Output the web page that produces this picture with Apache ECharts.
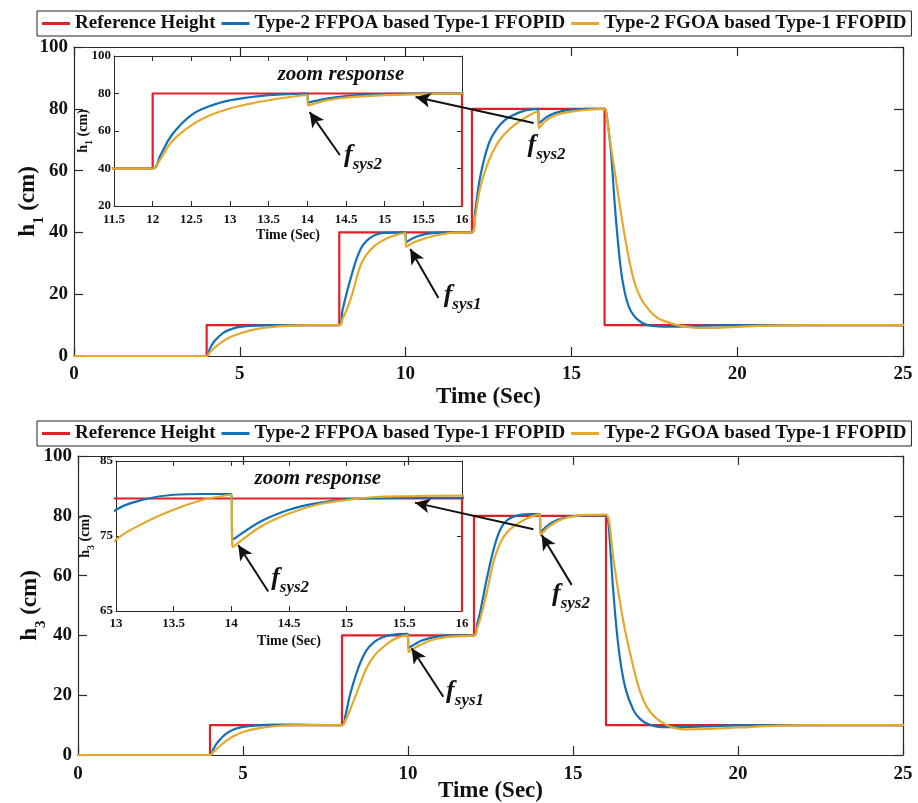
<!DOCTYPE html>
<html><head><meta charset="utf-8">
<script src="https://cdn.jsdelivr.net/npm/echarts@6/dist/echarts.min.js"></script>
<style>html,body{margin:0;padding:0;background:#fff}#c{width:918px;height:803px}</style>
</head><body><div id="c"></div>
<script>
// ---------------- data ----------------
const seriesNames = ['Reference Height', 'Type-2 FFPOA based Type-1 FFOPID', 'Type-2 FGOA based Type-1 FFOPID'];

const mainXTicks = [0, 5, 10, 15, 20, 25];
const mainYTicks = [0, 20, 40, 60, 80, 100];
const inset1XTicks = [11.5, 12, 12.5, 13, 13.5, 14, 14.5, 15, 15.5, 16];
const inset1YTicks = [20, 40, 60, 80, 100];
const inset3XTicks = [13, 13.5, 14, 14.5, 15, 15.5, 16];
const inset3YTicks = [65, 75, 85];

const refHeight = [[0,0],[4,0],[4,10],[8,10],[8,40],[12,40],[12,80],[16,80],[16,10],[25,10]];

const h1FFPOA = [[0,0],[4,0],[4.1,2.5],[4.25,5],[4.5,7.5],[4.75,8.7],[5,9.4],[5.5,9.85],[6,10],[8,10],
  [8.1,15],[8.33,24.6],[8.63,34.3],[8.93,38.2],[9.33,39.8],[10,40],
  [10.01,36.8],[10.25,38.3],[10.5,39.2],[10.75,39.7],[11.25,40],[12,40],
  [12.1,47],[12.25,58],[12.5,68.5],[12.75,73.5],[13,76.4],[13.25,78],[13.5,79.1],[13.75,79.7],[14,80],
  [14.01,75.2],[14.25,77.3],[14.5,78.6],[14.75,79.3],[15,79.7],[15.5,80],[16,80],
  [16.05,79],[16.18,67.6],[16.33,46],[16.48,29],[16.6,21],[16.73,16],[16.9,12.8],[17.09,11],[17.3,10],
  [17.6,9.6],[18,9.5],[18.5,9.6],[19,9.8],[20,10],[25,10]];

const h1FGOA = [[0,0],[4,0],[4.1,1.2],[4.25,2.8],[4.5,4.8],[4.75,6.3],[5,7.3],[5.5,8.7],[6,9.4],[6.5,9.8],[7,10],[8,10],
  [8.1,12],[8.33,18],[8.63,29],[8.8,32.5],[9.03,35.3],[9.25,37],[9.53,38.5],[9.75,39.3],[10,39.8],
  [10.01,35.3],[10.25,36.8],[10.43,37.5],[10.75,38.6],[11.04,39.3],[11.5,39.9],[12,40],
  [12.1,45],[12.25,54.5],[12.5,63],[12.75,68.5],[13,72],[13.25,74.5],[13.5,76.4],[13.75,78],[14,79.2],
  [14.01,73.7],[14.25,76.3],[14.5,77.8],[14.75,78.6],[15,79.1],[15.5,79.7],[16,80],
  [16.05,78.5],[16.12,73],[16.33,58],[16.63,37.5],[16.88,24.6],[17.1,18.5],[17.33,15],[17.6,12.3],[18,10.6],
  [18.2,10],[18.8,9.1],[19.5,9.2],[20.5,9.7],[22,10],[25,10]];

const h3FFPOA = [[0,0],[4,0],[4.1,2],[4.25,4.5],[4.5,7.2],[4.75,8.7],[5,9.4],[5.5,10],[6,10.2],[7,10.1],[8,10],
  [8.1,13],[8.24,20],[8.49,29],[8.74,35],[9,38],[9.24,39.4],[9.5,40.2],[10,40.5],
  [10.01,35.8],[10.2,37],[10.4,38.2],[10.8,39.4],[11.3,40],[12,40],
  [12.1,44],[12.2,48.5],[12.38,58.5],[12.6,69],[12.8,75.5],[13,78.5],[13.25,79.9],[13.5,80.5],[13.75,80.6],[14,80.6],
  [14.01,74.5],[14.25,76.9],[14.5,78.5],[14.75,79.4],[15,79.9],[15.5,80.1],[16,80.1],
  [16.05,79.5],[16.1,74],[16.22,55],[16.38,36],[16.58,22.7],[16.83,15],[17.04,12],[17.24,10.5],[17.5,9.6],
  [18,9.3],[18.5,9.4],[19,9.6],[20,9.9],[21,10],[25,10]];

const h3FGOA = [[0,0],[4,0],[4.1,1],[4.25,2.5],[4.5,4.8],[4.75,6.5],[5,7.7],[5.5,9],[6,9.7],[6.5,10],[8,10],
  [8.1,11.5],[8.24,15],[8.49,22],[8.74,29],[9,33.5],[9.24,36],[9.5,38.2],[9.75,39.5],[10,40.1],
  [10.01,34.4],[10.2,35.8],[10.4,37],[10.8,38.7],[11.3,39.6],[12,40],
  [12.1,42.5],[12.2,46],[12.4,55],[12.6,65],[12.8,71],[13,74.5],[13.25,76.8],[13.5,78.5],[13.75,79.8],[14,80.5],
  [14.01,73.5],[14.25,76.2],[14.5,78],[14.75,79.2],[15,79.8],[15.25,80.2],[15.5,80.3],[16,80.4],
  [16.05,79.8],[16.1,78],[16.22,66],[16.52,45],[16.83,29.4],[17.04,21],[17.24,16],[17.5,12.5],[17.84,10],
  [18.1,9],[18.44,8.6],[19,8.7],[20,9.2],[21.2,9.8],[22,10],[25,10]];

// ---------------- style / layout ----------------
const serif = "'Liberation Serif','Times New Roman',serif";
const axisColor = '#2a2a2a';
const colors = ['#e31f26', '#1170b8', '#e3a92c'];

const grids = [
  {left: 74, right: 15, top: 47, height: 309, outerBoundsMode: 'none', containLabel: false},   // main h1
  {left: 114, width: 348, top: 56, height: 150, outerBoundsMode: 'none', containLabel: false}, // inset h1
  {left: 78, right: 15, top: 456, height: 299, outerBoundsMode: 'none', containLabel: false},  // main h3
  {left: 116, width: 346, top: 461, height: 150, outerBoundsMode: 'none', containLabel: false} // inset h3
];

function nameRich(fs, sub) {
  return {
    a: {fontFamily: serif, fontWeight: 'bold', fontSize: fs, color: '#111', verticalAlign: 'bottom', lineHeight: fs, padding: [0, 0, Math.round(fs * 0.3), 0]},
    b: {fontFamily: serif, fontWeight: 'bold', fontSize: sub, color: '#111', verticalAlign: 'bottom', lineHeight: sub}
  };
}

function xAxes(grid, min, max, ticks, o) {
  const base = (pos, primary) => ({
    type: 'value', gridIndex: grid, position: pos, min, max,
    splitLine: {show: false},
    axisLine: {show: true, onZero: false, lineStyle: {color: axisColor, width: o.lw}},
    axisTick: {show: true, inside: true, length: o.tick, customValues: ticks, lineStyle: {color: axisColor, width: o.lw}},
    axisLabel: {show: primary, customValues: ticks, margin: o.margin, color: '#111', fontFamily: serif, fontWeight: 'bold', fontSize: o.fs},
    name: primary ? 'Time (Sec)' : '', nameLocation: 'middle', nameGap: o.nameGap, nameMoveOverlap: false,
    nameTextStyle: {fontFamily: serif, fontWeight: 'bold', fontSize: o.nfs, color: '#111'}
  });
  return [base('bottom', true), base('top', false)];
}
function yAxes(grid, min, max, ticks, o) {
  const base = (pos, primary) => ({
    type: 'value', gridIndex: grid, position: pos, min, max,
    splitLine: {show: false},
    axisLine: {show: true, onZero: false, lineStyle: {color: axisColor, width: o.lw}},
    axisTick: {show: true, inside: true, length: o.tick, customValues: ticks, lineStyle: {color: axisColor, width: o.lw}},
    axisLabel: {show: primary, customValues: ticks, margin: o.margin, color: '#111', fontFamily: serif, fontWeight: 'bold', fontSize: o.fs},
    name: primary ? '{a|h}{b|' + o.sub + '}{a| (cm)}' : '', nameLocation: 'middle', nameGap: o.nameGap, nameRotate: 90,
    nameMoveOverlap: false,
    nameTextStyle: {rich: nameRich(o.nfs, o.sfs)}
  });
  return [base('left', true), base('right', false)];
}

const xAxis = [].concat(
  xAxes(0, 0, 25, mainXTicks, {lw: 1.2, tick: 9, margin: 9, fs: 19, nameGap: 30, nfs: 23}),
  xAxes(1, 11.5, 16, inset1XTicks, {lw: 1, tick: 5, margin: 7, fs: 13, nameGap: 22, nfs: 14}),
  xAxes(2, 0, 25, mainXTicks, {lw: 1.2, tick: 9, margin: 10, fs: 19, nameGap: 25, nfs: 23}),
  xAxes(3, 13, 16, inset3XTicks, {lw: 1, tick: 5, margin: 6, fs: 13, nameGap: 23, nfs: 14})
);
const yAxis = [].concat(
  yAxes(0, 0, 100, mainYTicks, {lw: 1.2, tick: 9, margin: 6, fs: 19, nameGap: 27, nfs: 23, sfs: 15, sub: '1'}),
  yAxes(1, 20, 100, inset1YTicks, {lw: 1, tick: 5, margin: 3, fs: 13, nameGap: 20, nfs: 14, sfs: 10, sub: '1'}),
  yAxes(2, 0, 100, mainYTicks, {lw: 1.2, tick: 9, margin: 6, fs: 19, nameGap: 29, nfs: 23, sfs: 15, sub: '3'}),
  yAxes(3, 65, 85, inset3YTicks, {lw: 1, tick: 5, margin: 3, fs: 13, nameGap: 20, nfs: 14, sfs: 10, sub: '3'})
);

const fRich = {
  f: {fontFamily: serif, fontStyle: 'italic', fontWeight: 'bold', fontSize: 26, lineHeight: 26, color: '#111', verticalAlign: 'bottom', padding: [0, 0, 5, 0]},
  s: {fontFamily: serif, fontStyle: 'italic', fontWeight: 'bold', fontSize: 17, lineHeight: 17, color: '#111', verticalAlign: 'bottom'},
  z: {fontFamily: serif, fontStyle: 'italic', fontWeight: 'bold', fontSize: 21, color: '#111'}
};
function fLabel(t, v, sub) {
  return {coord: [t, v], label: {formatter: '{f|f}{s|' + sub + '}'}};
}
function zoomLabel(t, v) {
  return {coord: [t, v], label: {formatter: '{z|zoom response}'}};
}
function arrow(t1, v1, t2, v2) {
  return [{coord: [t1, v1]}, {coord: [t2, v2]}];
}
function markers(arrows, labels) {
  return {
    markLine: {silent: true, animation: false, symbol: ['none', 'arrow'], symbolSize: [11, 15],
      lineStyle: {color: '#111', width: 2, type: 'solid'}, label: {show: false}, emphasis: {disabled: true}, data: arrows},
    markPoint: {silent: true, animation: false, symbol: 'rect', symbolSize: 1, itemStyle: {color: 'rgba(0,0,0,0)'},
      label: {show: true, position: 'inside', rich: fRich}, emphasis: {disabled: true}, data: labels}
  };
}

function lineSeries(idx, data, axisIdx, extra) {
  return Object.assign({
    type: 'line', name: seriesNames[idx], data, xAxisIndex: axisIdx * 2, yAxisIndex: axisIdx * 2,
    showSymbol: false, symbol: 'none', smooth: idx === 0 ? false : 0.4, clip: true,
    lineStyle: {color: colors[idx], width: 2.2, cap: 'round', join: 'round'},
    itemStyle: {color: colors[idx]}, emphasis: {disabled: true}
  }, extra || {});
}

const series = [
  lineSeries(0, refHeight, 0), lineSeries(1, h1FFPOA, 0),
  lineSeries(2, h1FGOA, 0, markers(
    [arrow(13.86, 75.4, 10.30, 83.8), arrow(10.99, 18.8, 10.14, 34.6)],
    [fLabel(14.25, 66.7, 'sys2'), fLabel(11.72, 18.1, 'sys1')])),
  lineSeries(0, refHeight, 1), lineSeries(1, h1FFPOA, 1),
  lineSeries(2, h1FGOA, 1, markers(
    [arrow(14.42, 47.2, 14.03, 70.1)],
    [fLabel(14.72, 44.5, 'sys2'), zoomLabel(14.435, 89.9)])),
  lineSeries(0, refHeight, 2), lineSeries(1, h3FFPOA, 2),
  lineSeries(2, h3FGOA, 2, markers(
    [arrow(13.80, 75.5, 10.21, 84.4), arrow(14.96, 56.9, 14.05, 73.6), arrow(11.07, 19.5, 10.11, 35.7)],
    [fLabel(14.94, 52.0, 'sys2'), fLabel(11.73, 19.6, 'sys1')])),
  lineSeries(0, refHeight, 3), lineSeries(1, h3FFPOA, 3),
  lineSeries(2, h3FGOA, 3, markers(
    [arrow(14.32, 67.6, 14.06, 73.8)],
    [fLabel(14.51, 68.7, 'sys2'), zoomLabel(14.75, 82.7)]))
];

function legend(top) {
  return {
    data: seriesNames, left: 37, top, orient: 'horizontal', icon: 'rect', itemWidth: 28, itemHeight: 3, itemGap: 6,
    padding: [3, 5, 3, 5], borderColor: '#222', borderWidth: 1, selectedMode: false,
    textStyle: {fontFamily: serif, fontWeight: 'bold', fontSize: 19, color: '#111'}
  };
}

const chart = echarts.init(document.getElementById('c'), null, {renderer: 'canvas'});
chart.setOption({
  animation: false,
  backgroundColor: '#fff',
  legend: [legend(11), legend(421)],
  grid: grids,
  xAxis, yAxis, series
});
</script></body></html>
